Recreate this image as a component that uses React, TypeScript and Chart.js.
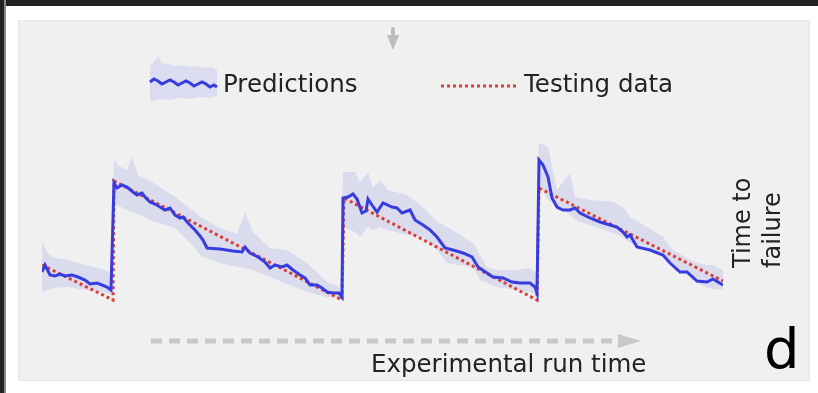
import React, { useEffect, useRef } from "react";
import { Chart, registerables } from "chart.js";
Chart.register(...registerables);

// Experimental run time (arbitrary units) and time to failure (arbitrary units)
const predX = [0, 3, 8, 13, 18, 23, 30, 36, 43, 48, 55, 60, 65, 69,
  72, 75, 80, 85, 91, 95, 100, 103, 108, 113, 118, 123, 128, 133, 138, 141, 146, 153, 158, 161, 165, 178, 191, 200, 203, 208, 216, 223, 228, 233, 240, 245, 251, 258, 263, 268, 275, 280, 285, 291, 297, 300,
  301, 306, 311, 315, 320, 324, 326, 330, 335, 341, 350, 355, 360, 368, 373, 381, 388, 395, 403, 411, 421, 430, 436, 445, 451, 461, 470, 478, 488, 493, 495,
  497, 501, 506, 510, 515, 521, 528, 533, 538, 548, 558, 568, 575, 581, 585, 588, 595, 608, 621, 628, 638, 645, 655, 665, 671, 681];
const predY = [3.8, 4.5, 3.5, 3.4, 3.6, 3.4, 3.5, 3.3, 3.0, 2.6, 2.7, 2.5, 2.3, 2.0,
  12.7, 12.2, 12.5, 12.3, 11.8, 11.5, 11.7, 11.3, 10.8, 10.6, 10.3, 10.0, 10.2, 9.5, 9.2, 9.3, 8.7, 8.0, 7.4, 7.0, 6.2, 6.1, 5.9, 5.8, 6.3, 5.7, 5.3, 4.8, 4.2, 4.5, 4.3, 4.5, 4.0, 3.5, 3.2, 2.5, 2.5, 2.2, 1.8, 1.7, 1.7, 1.3,
  11.2, 11.3, 11.6, 11.1, 9.7, 9.9, 11.1, 10.5, 9.8, 10.7, 10.3, 10.2, 9.7, 10.0, 9.0, 8.5, 8.0, 7.3, 6.2, 6.0, 5.7, 5.3, 4.3, 3.7, 3.3, 3.2, 2.8, 2.7, 2.7, 2.3, 1.7,
  15.0, 14.5, 13.3, 11.2, 10.3, 10.0, 10.0, 10.2, 9.7, 9.2, 8.8, 8.5, 8.3, 7.8, 7.3, 7.5, 6.3, 6.0, 5.5, 4.7, 3.8, 3.8, 2.9, 2.8, 3.1, 2.5];

const testX = [0, 71, 72, 300, 302, 495, 497, 681];
const testY = [4.5, 1.0, 12.9, 1.0, 11.2, 1.0, 12.2, 2.9];

const bandX = [0, 6, 13, 26, 43, 60, 70,
  72, 75, 85, 90, 96, 110, 133, 150, 160, 178, 195, 203, 211, 228, 245, 265, 285, 298,
  301, 313, 318, 326, 331, 338, 346, 365, 381, 395, 405, 415, 431, 438, 445, 455, 475, 488, 495,
  497, 506, 515, 528, 533, 548, 571, 581, 588, 605, 621, 631, 648, 655, 665, 671, 681];
const bandUpper = [6.8, 5.6, 5.2, 5.0, 4.5, 4.1, 3.6,
  15.3, 14.5, 14.0, 15.3, 13.5, 12.8, 11.3, 10.0, 9.2, 8.2, 7.6, 9.8, 7.8, 6.2, 6.0, 4.7, 2.8, 2.3,
  13.8, 13.8, 12.7, 13.8, 12.2, 13.0, 12.0, 11.5, 10.3, 8.8, 8.3, 7.7, 6.7, 5.5, 4.3, 4.0, 4.0, 4.2, 3.7,
  16.7, 16.3, 12.0, 13.7, 11.3, 11.0, 10.8, 10.3, 9.3, 8.3, 7.3, 6.0, 5.0, 4.7, 4.5, 4.5, 4.0];
const bandLower = [1.8, 2.0, 2.2, 2.3, 2.0, 1.8, 1.6,
  10.3, 10.5, 10.0, 9.8, 9.6, 8.9, 8.2, 6.5, 5.3, 4.7, 4.3, 4.2, 4.0, 3.3, 2.6, 1.8, 1.3, 1.2,
  8.3, 7.8, 7.3, 8.3, 8.0, 8.3, 8.0, 7.5, 7.3, 6.0, 4.7, 4.5, 4.3, 3.0, 2.7, 2.3, 2.0, 1.8, 1.3,
  12.5, 11.0, 10.5, 9.5, 9.0, 8.5, 7.7, 7.3, 6.7, 6.3, 5.7, 4.3, 3.3, 2.7, 2.2, 2.1, 2.0];

const legendLabels = ["Predictions", "Testing data"];
const xAxisLabel = "Experimental run time";
const yAxisLabel = ["Time to", "failure"];
const panelLetter = "d";

const FONT = "'DejaVu Sans', Verdana, sans-serif";
const BLUE = "rgb(55,60,222)";
const RED = "rgb(218,62,52)";
const BAND = "rgba(100,100,230,0.15)";

function pts(xs: number[], ys: number[]) {
  return xs.map((x, i) => ({ x, y: ys[i] }));
}

export default function App() {
  const ref = useRef<HTMLCanvasElement | null>(null);
  useEffect(() => {
    if (!ref.current) return;
    const chart = new Chart(ref.current, {
      type: "line",
      data: {
        datasets: [
          { label: legendLabels[0], data: pts(predX, predY), borderColor: BLUE, borderWidth: 3, pointRadius: 0, tension: 0, fill: false, order: 0 },
          { label: legendLabels[1], data: pts(testX, testY), borderColor: RED, borderWidth: 3, borderDash: [3, 3], pointRadius: 0, tension: 0, fill: false, order: 1 },
          { label: "upper", data: pts(bandX, bandUpper), borderWidth: 0, borderColor: "transparent", backgroundColor: BAND, pointRadius: 0, tension: 0, fill: "+1", order: 2 },
          { label: "lower", data: pts(bandX, bandLower), borderWidth: 0, borderColor: "transparent", pointRadius: 0, tension: 0, fill: false, order: 3 },
        ],
      },
      options: {
        animation: false,
        responsive: false,
        devicePixelRatio: 1,
        layout: { padding: { left: 42, right: 95, top: 130, bottom: 83 } },
        scales: {
          x: { type: "linear", min: 0, max: 681, display: false },
          y: { type: "linear", min: 0, max: 18, display: false },
        },
        plugins: { legend: { display: false }, tooltip: { enabled: false } },
      },
    });
    return () => chart.destroy();
  }, []);

  const txt: React.CSSProperties = { position: "absolute", fontFamily: FONT, fontSize: 24.5, lineHeight: "24.5px", color: "#222", whiteSpace: "nowrap" };

  return (
    <div style={{ position: "fixed", left: 0, top: 0, width: 818, height: 393, background: "#fff", overflow: "hidden" }}>
      <div style={{ position: "absolute", left: 0, top: 0, width: 818, height: 6, background: "#222" }} />
      <div style={{ position: "absolute", left: 0, top: 0, width: 4, height: 393, background: "#222" }} />
      <div style={{ position: "absolute", left: 4, top: 0, width: 2, height: 393, background: "#8a8a8a" }} />
      <div style={{ position: "absolute", left: 18, top: 20, width: 790, height: 359, background: "#f0f0f0", border: "1px solid #e6e6e6" }} />
      <svg width={818} height={393} style={{ position: "absolute", left: 0, top: 0 }}>
        {/* top arrow */}
        <rect x={391} y={27} width={4} height={9} rx={2} fill="#bdbdbd" />
        <polygon points="387,35 399,35 393,50" fill="#bdbdbd" />
        {/* legend: predictions */}
        <polygon points="150,66 154,62 158,56 162,63 168,64 175,66 182,65 190,67 198,66 205,68 212,67 217,70 217,96 210,98 200,97 190,99 180,98 170,100 160,99 152,101 150,100" fill="rgb(220,220,240)" />
        <polyline points="150,82 154,79 158,81 162,84 166,82 170,80 174,82 178,85 182,83 186,81 190,83 194,86 198,84 202,82 206,84 210,87 214,85 217,87" fill="none" stroke={BLUE} strokeWidth={3} />
        {/* legend: testing data */}
        <line x1={441} y1={86} x2={519} y2={86} stroke={RED} strokeWidth={3} strokeDasharray="3 3" />
        {/* bottom arrow */}
        <line x1={151} y1={341} x2={617} y2={341} stroke="#c8c8c8" strokeWidth={5} strokeDasharray="11 7" />
        <polygon points="618,334 641,341 618,348" fill="#c8c8c8" />
      </svg>
      <canvas ref={ref} width={818} height={393} style={{ position: "absolute", left: 0, top: 0, width: 818, height: 393 }} />
      <div style={{ ...txt, left: 223, top: 72 }}>{legendLabels[0]}</div>
      <div style={{ ...txt, left: 524, top: 72 }}>{legendLabels[1]}</div>
      <div style={{ ...txt, left: 371, top: 352 }}>{xAxisLabel}</div>
      <div style={{ position: "absolute", left: 727.5, top: 268, fontFamily: FONT, fontSize: 24, lineHeight: "29.5px", color: "#222", whiteSpace: "nowrap", transform: "rotate(-90deg)", transformOrigin: "0 0" }}>
        {yAxisLabel[0]}<br />{yAxisLabel[1]}
      </div>
      <div style={{ position: "absolute", left: 764, top: 321, fontFamily: FONT, fontSize: 56, lineHeight: "56px", color: "#000" }}>{panelLetter}</div>
    </div>
  );
}
